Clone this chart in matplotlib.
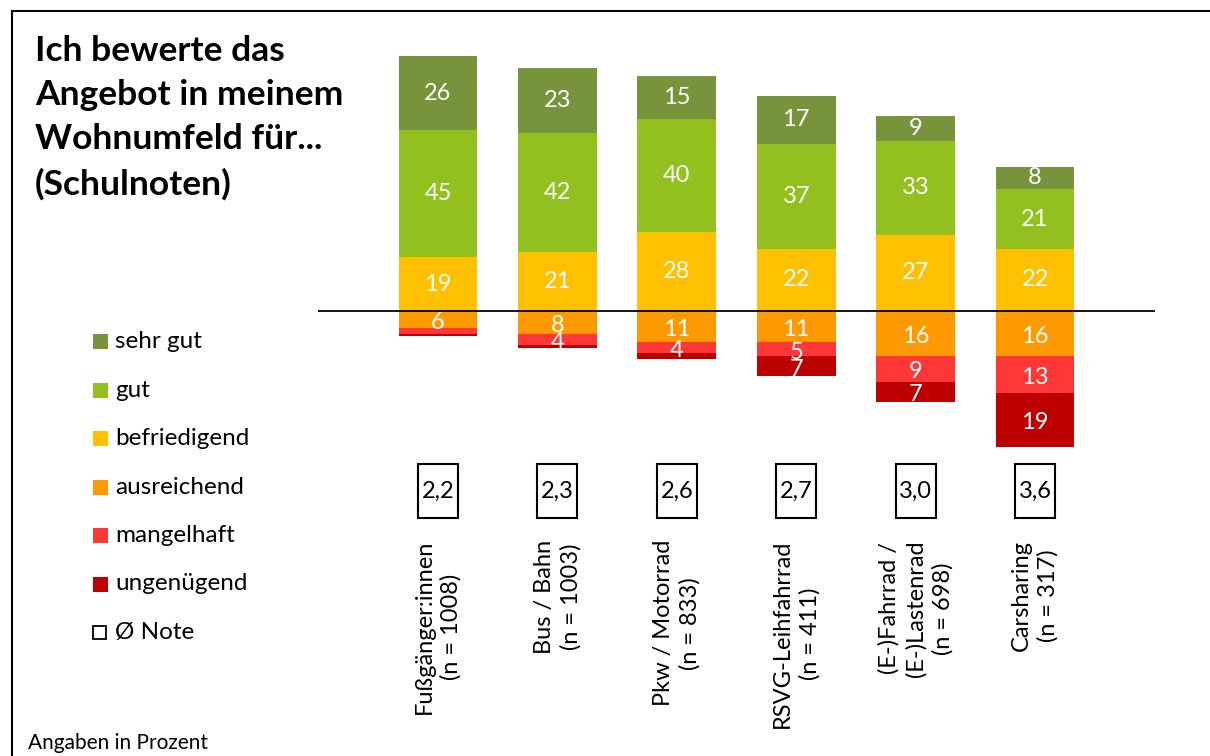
import matplotlib
matplotlib.use("Agg")
import matplotlib.pyplot as plt
from matplotlib.patches import Rectangle
from matplotlib.lines import Line2D
import matplotlib.transforms as mtransforms

plt.rcParams['font.family'] = ['Lato', 'DejaVu Sans']

categories = ["Fußgänger:innen\n(n = 1008)", "Bus / Bahn\n(n = 1003)",
              "Pkw / Motorrad\n(n = 833)", "RSVG-Leihfahrrad\n(n = 411)",
              "(E-)Fahrrad /\n(E-)Lastenrad\n(n = 698)", "Carsharing\n(n = 317)"]
sehr_gut = [26, 23, 15, 17, 9, 8]
gut = [45, 42, 40, 37, 33, 21]
befriedigend = [19, 21, 28, 22, 27, 22]
ausreichend = [6, 8, 11, 11, 16, 16]
mangelhaft = [2, 4, 4, 5, 9, 13]
ungenuegend = [1, 1, 2, 7, 7, 19]
noten = [2.2, 2.3, 2.6, 2.7, 3.0, 3.6]

series_names = ["sehr gut", "gut", "befriedigend", "ausreichend", "mangelhaft", "ungenügend"]
colors = ["#77933C", "#92C01F", "#FFC000", "#FF9900", "#FF3737", "#BC0000"]

W, H = 1210, 756
fig = plt.figure(figsize=(W / 100, H / 100), dpi=100)

ax = fig.add_axes([318 / W, 1 - 460 / H, 837 / W, 440 / H])
ax.set_xlim(-1.005, 6.005)
ax.set_ylim(-52.65, 102.83)
ax.axis('off')

x = list(range(len(categories)))
bw = 0.66
lab_fs = 17

pos_series = [(befriedigend, colors[2]), (gut, colors[1]), (sehr_gut, colors[0])]
neg_series = [(ausreichend, colors[3]), (mangelhaft, colors[4]), (ungenuegend, colors[5])]

bottom = [0] * len(x)
for vals, c in pos_series:
    ax.bar(x, vals, bw, bottom=bottom, color=c, edgecolor='none')
    for i, v in enumerate(vals):
        ax.text(x[i], bottom[i] + v / 2, str(v), ha='center', va='center',
                color='white', fontsize=lab_fs)
    bottom = [b + v for b, v in zip(bottom, vals)]

bottom = [0] * len(x)
for vals, c in neg_series:
    ax.bar(x, [-v for v in vals], bw, bottom=bottom, color=c, edgecolor='none')
    for i, v in enumerate(vals):
        if v >= 4:
            ax.text(x[i], bottom[i] - v / 2 - 1.0, str(v), ha='center', va='center',
                    color='white', fontsize=lab_fs)
    bottom = [b - v for b, v in zip(bottom, vals)]

ax.axhline(0, color='black', lw=1.3)

# Note boxes and category labels
trans = mtransforms.blended_transform_factory(ax.transData, fig.transFigure)
bwid = 40 / 119.4
for i, n in enumerate(noten):
    r = Rectangle((x[i] - bwid / 2, 1 - 518 / H), bwid, 54 / H, transform=trans,
                  facecolor='white', edgecolor='black', lw=1.5, clip_on=False)
    fig.add_artist(r)
    fig.text(x[i], 1 - 491 / H, f"{n:.1f}".replace('.', ','), transform=trans,
             ha='center', va='center', fontsize=17)
    fig.text(x[i], 1 - 540 / H, categories[i], transform=trans, rotation=90,
             ha='center', va='top', multialignment='center', fontsize=17,
             linespacing=1.3)

# Title
fig.text(35 / W, 1 - 35 / H, "Ich bewerte das\nAngebot in meinem\nWohnumfeld für...\n(Schulnoten)",
         ha='left', va='top', fontsize=25.5, fontweight='bold', linespacing=1.47)

# Legend
leg_y = [341, 390, 438, 487, 535, 584]
for name, c, yy in zip(series_names, colors, leg_y):
    fig.add_artist(Rectangle((93 / W, 1 - (yy + 8) / H), 15 / W, 15 / H,
                             transform=fig.transFigure, facecolor=c, edgecolor='none'))
    fig.text(115 / W, 1 - yy / H, name, ha='left', va='center', fontsize=17.5)
fig.add_artist(Rectangle((93 / W, 1 - 639 / H), 13 / W, 13 / H, transform=fig.transFigure,
                         facecolor='white', edgecolor='black', lw=1.3))
fig.text(115 / W, 1 - 632 / H, "Ø Note", ha='left', va='center', fontsize=17.5)

# Footer
fig.text(28 / W, 1 - 743 / H, "Angaben in Prozent", ha='left', va='center', fontsize=15)

# Frame lines
fig.add_artist(Line2D([12 / W, 1], [1 - 11 / H, 1 - 11 / H], color='black', lw=1.5,
                      transform=fig.transFigure))
fig.add_artist(Line2D([12 / W, 12 / W], [1 - 11 / H, 0], color='black', lw=1.5,
                      transform=fig.transFigure))

fig.savefig("out.png", dpi=100)
